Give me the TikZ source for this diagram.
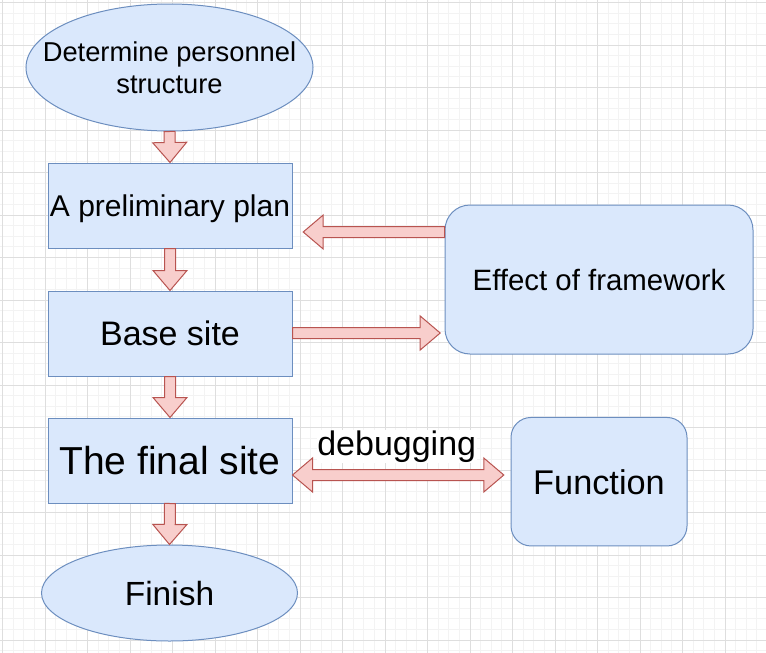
\documentclass[tikz,border=0pt]{standalone}
\usepackage{fontspec}
\setmainfont{Liberation Sans}
\usetikzlibrary{calc,shapes.geometric}
\definecolor{bfill}{HTML}{DAE8FC}
\definecolor{bdraw}{HTML}{6C8EBF}
\definecolor{rfill}{HTML}{F8CECC}
\definecolor{rdraw}{HTML}{B85450}
\definecolor{gminor}{HTML}{F3F3F3}
\definecolor{gmajor}{HTML}{DEDEDE}
\tikzset{
  shp/.style={draw=bdraw, fill=bfill, line width=1pt, inner sep=0pt, text=black},
  boxnode/.style={shp, rectangle, minimum width=244pt, minimum height=85pt},
  ell/.style={shp, ellipse, inner xsep=-80pt, inner ysep=-10pt},
  rbox/.style={shp, rectangle, rounded corners=#1},
  oneline/.style={text height=#1, text depth=0pt},
  barrow/.style={draw=rdraw, fill=rfill, line width=1pt, line join=miter},
  minorline/.style={draw=gminor, line width=0.8pt},
  majorline/.style={draw=gmajor, line width=1pt},
  lbl/.style={fill=white, inner sep=0.5pt, text=black},
}
\newcommand\blockarr[2]{%
  \draw[barrow] let \p1=(#1), \p2=(#2),
    \n1={atan2(\y2-\y1,\x2-\x1)}, \n2={veclen(\x2-\x1,\y2-\y1)} in
    [shift={(\p1)}, rotate=\n1]
    (0pt,5.5pt) -- ({\n2-20pt},5.5pt) -- ({\n2-20pt},17pt) -- (\n2,0pt)
    -- ({\n2-20pt},-17pt) -- ({\n2-20pt},-5.5pt) -- (0pt,-5.5pt) -- cycle;}
\newcommand\dblarr[2]{%
  \draw[barrow] let \p1=(#1), \p2=(#2),
    \n1={atan2(\y2-\y1,\x2-\x1)}, \n2={veclen(\x2-\x1,\y2-\y1)} in
    [shift={(\p1)}, rotate=\n1]
    (20pt,5.5pt) -- ({\n2-20pt},5.5pt) -- ({\n2-20pt},17pt) -- (\n2,0pt)
    -- ({\n2-20pt},-17pt) -- ({\n2-20pt},-5.5pt) -- (20pt,-5.5pt)
    -- (20pt,-17pt) -- (0pt,0pt) -- (20pt,17pt) -- cycle;}
\begin{document}
\begin{tikzpicture}[x=1pt,y=-1pt]
\useasboundingbox (0,0) rectangle (766,653);
\fill[white] (0,0) rectangle (766,653);
% grid
\foreach \i in {0,...,72} {\draw[minorline] ({2.5+\i*10.625},0) -- ({2.5+\i*10.625},653);}
\foreach \i in {0,...,61} {\draw[minorline] (0,{2.5+\i*10.625}) -- (766,{2.5+\i*10.625});}
\foreach \i in {0,...,18} {\draw[majorline] ({2.5+\i*42.5},0) -- ({2.5+\i*42.5},653);}
\foreach \i in {0,...,15} {\draw[majorline] (0,{2.5+\i*42.5}) -- (766,{2.5+\i*42.5});}
% nodes
\node[ell, minimum width=287pt, minimum height=127pt, align=center,
      font=\fontsize{27.3}{32.5}\selectfont] (top) at (169.5,67.5) {Determine personnel\\structure};
\node[boxnode, oneline=21.5pt, font=\fontsize{30}{36}\selectfont] (plan) at (170,205.5) {A preliminary plan};
\node[boxnode, oneline=24.3pt, font=\fontsize{34}{40}\selectfont] (base) at (170,333.5) {Base site};
\node[boxnode, oneline=27.9pt, font=\fontsize{39}{46}\selectfont] (final) at (170,460.5) {The final site};
\node[ell, oneline=24pt, minimum width=256pt, minimum height=96pt,
      font=\fontsize{33.5}{40}\selectfont] (finish) at (169.5,593) {Finish};
\node[rbox=25pt, oneline=21pt, minimum width=308pt, minimum height=149pt,
      font=\fontsize{29.4}{35}\selectfont] (effect) at (599,279.5) {Effect of framework};
\node[rbox=20pt, oneline=24.6pt, minimum width=176pt, minimum height=128.5pt,
      font=\fontsize{34.3}{41}\selectfont] (func) at (599,481.7) {Function};
\node[lbl, anchor=base, font=\fontsize{34}{40}\selectfont] (dbg) at (396.7,455) {debugging};
% helper coordinates
\coordinate (ya) at (0,232);
\coordinate (yb) at (0,333);
\coordinate (yc) at (0,475);
\coordinate (pe) at ($(plan.east |- ya)+(10.7,0)$);
\coordinate (ee) at ($(effect.west |- yb)+(-4.3,0)$);
\coordinate (fw) at ($(func.west |- yc)+(-6.7,0)$);
% connectors
\blockarr{top.south}{plan.north}
\blockarr{plan.south}{base.north}
\blockarr{base.south}{final.north}
\blockarr{final.south}{finish.north}
\blockarr{effect.west |- ya}{pe}
\blockarr{base.east |- yb}{ee}
\dblarr{final.east |- yc}{fw}
\end{tikzpicture}
\end{document}
